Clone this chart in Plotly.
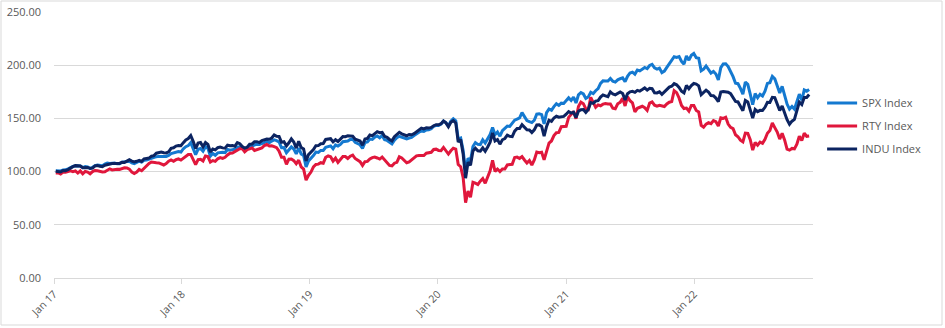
import pandas as pd
import plotly.graph_objects as go

# Weekly (Friday) index levels, rebased so the start of 2017 = 100
week_start = "2017-01-06"

spx = [
    # 2017
    100.8, 100.8, 100.6, 101.6, 101.7, 102.6, 104.1, 104.8, 105.5, 105.1,
    105.3, 103.8, 104.7, 104.3, 103.1, 104.0, 105.6, 106.2, 105.9, 105.5,
    107.0, 108.0, 107.7, 107.8, 108.0, 107.3, 107.4, 108.9, 109.5, 109.5,
    109.7, 108.1, 107.4, 108.2, 109.7, 109.0, 110.7, 110.8, 111.6, 112.9,
    113.1, 114.0, 114.3, 114.6, 114.3, 114.2, 115.2, 117.0, 117.4, 118.5,
    118.8, 118.4,
    # 2018
    121.5, 123.4, 124.4, 127.2, 122.3, 116.0, 121.0, 121.7, 119.2, 123.4,
    121.9, 114.6, 117.0, 115.3, 117.6, 118.2, 118.2, 117.9, 120.8, 120.1,
    120.5, 121.1, 123.1, 123.1, 122.0, 120.4, 122.2, 124.0, 124.1, 124.8,
    125.8, 125.5, 126.2, 127.3, 128.5, 127.2, 128.7, 129.8, 129.1, 127.8,
    122.5, 122.6, 117.8, 120.6, 123.2, 121.2, 116.6, 122.2, 116.6, 115.1,
    104.5, 110.1,
    # 2019
    112.1, 115.0, 118.3, 118.0, 119.9, 119.9, 122.9, 123.7, 124.2, 121.5,
    125.0, 124.0, 125.5, 128.1, 128.7, 128.7, 130.2, 130.5, 127.6, 126.7,
    125.2, 121.9, 127.2, 127.9, 130.6, 130.3, 132.4, 133.5, 131.8, 134.0,
    129.9, 129.3, 127.9, 126.1, 129.6, 131.9, 133.2, 132.5, 131.2, 130.7,
    131.5, 132.2, 133.9, 135.8, 137.0, 138.2, 137.7, 139.1, 139.3, 140.3,
    142.6, 143.5,
    # 2020
    143.3, 144.6, 147.5, 145.9, 142.9, 147.4, 149.7, 147.8, 130.8, 131.6,
    120.1, 100.0, 112.5, 110.2, 123.6, 127.3, 125.6, 125.4, 129.8, 126.8,
    130.9, 134.8, 141.5, 134.7, 137.2, 133.3, 138.6, 141.1, 142.8, 142.4,
    144.9, 148.4, 149.4, 150.4, 155.4, 151.8, 148.0, 147.0, 146.1, 148.3,
    154.0, 154.3, 153.5, 144.8, 155.4, 158.8, 157.6, 161.1, 163.8, 162.2,
    164.3, 164.0, 166.3,
    # 2021
    169.4, 166.9, 170.1, 164.5, 172.1, 174.3, 173.0, 168.8, 170.2, 174.6,
    173.3, 176.0, 178.0, 182.9, 185.3, 185.1, 185.2, 187.5, 184.9, 184.1,
    186.2, 187.3, 188.1, 184.5, 189.6, 192.7, 193.5, 191.6, 195.4, 194.6,
    196.5, 197.9, 196.7, 199.7, 200.8, 197.5, 196.3, 197.3, 193.0, 194.5,
    198.0, 201.3, 203.9, 208.0, 207.4, 208.1, 203.5, 201.0, 208.7, 204.7,
    209.3, 211.1,
    # 2022
    207.1, 206.5, 194.8, 196.3, 199.3, 195.7, 192.6, 194.2, 191.7, 186.2,
    197.7, 201.2, 201.3, 198.8, 194.6, 189.2, 183.0, 182.6, 178.2, 172.8,
    184.1, 182.0, 172.8, 162.8, 173.3, 169.4, 172.7, 171.1, 175.5, 182.9,
    183.6, 189.5, 187.2, 179.7, 173.8, 180.1, 171.5, 163.5, 158.8, 161.2,
    158.7, 166.2, 172.8, 167.0, 176.8, 175.6, 177.2,
]

rty = [
    # 2017
    98.8, 98.8, 97.8, 99.5, 99.4, 100.3, 100.7, 99.9, 100.7, 98.6,
    100.6, 97.9, 100.1, 99.6, 98.0, 100.0, 101.1, 100.8, 100.2, 99.7,
    99.9, 101.5, 102.6, 101.6, 102.1, 102.2, 102.1, 103.0, 103.6, 103.4,
    102.3, 99.5, 98.1, 99.5, 102.0, 100.8, 103.2, 104.8, 107.6, 109.0,
    108.4, 108.3, 108.2, 107.4, 106.2, 107.5, 109.7, 110.9, 109.7, 111.2,
    111.9, 110.8,
    # 2018
    112.6, 114.9, 116.0, 116.1, 111.7, 106.6, 111.3, 111.5, 110.0, 114.7,
    114.1, 109.0, 110.4, 109.6, 112.0, 113.1, 112.4, 113.4, 115.6, 117.3,
    117.5, 118.9, 120.7, 121.5, 121.7, 118.6, 120.7, 121.8, 122.2, 119.9,
    120.7, 121.3, 122.2, 124.5, 125.6, 124.0, 124.3, 123.5, 122.5, 119.2,
    113.4, 113.4, 106.9, 111.7, 111.8, 110.3, 107.4, 110.7, 104.5, 102.4,
    92.0, 96.5,
    # 2019
    99.6, 104.5, 106.7, 107.0, 108.4, 107.9, 113.4, 114.8, 113.9, 109.9,
    112.6, 108.7, 111.2, 114.2, 114.2, 112.3, 114.5, 115.5, 112.3, 110.9,
    109.3, 105.8, 109.3, 109.6, 111.9, 113.1, 113.7, 112.8, 111.8, 113.7,
    110.8, 108.7, 105.8, 105.3, 107.9, 108.7, 113.9, 112.8, 110.0, 108.3,
    109.1, 110.8, 112.5, 114.8, 115.2, 115.5, 115.1, 117.3, 118.0, 118.1,
    120.8, 121.1,
    # 2020
    119.9, 119.7, 122.7, 120.0, 116.5, 119.6, 121.9, 121.2, 106.6, 104.6,
    94.6, 70.8, 81.7, 76.0, 90.0, 89.1, 87.9, 91.0, 93.4, 89.0,
    94.7, 100.7, 110.5, 100.2, 102.4, 100.1, 102.5, 102.4, 106.3, 106.6,
    106.9, 113.2, 113.6, 112.3, 114.1, 110.9, 108.1, 110.4, 106.2, 111.0,
    118.3, 117.7, 118.2, 111.0, 118.3, 126.8, 128.8, 133.9, 136.6, 136.8,
    142.2, 142.2, 142.6,
    # 2021
    151.0, 153.3, 156.5, 149.7, 161.2, 165.3, 163.8, 158.9, 158.3, 169.8,
    165.0, 160.4, 162.7, 161.9, 163.4, 164.0, 163.6, 163.5, 159.6, 159.1,
    163.8, 165.1, 168.9, 161.7, 170.4, 166.6, 164.6, 156.2, 159.5, 160.7,
    161.4, 160.1, 157.5, 164.4, 165.5, 162.4, 161.5, 162.3, 161.8, 161.2,
    163.6, 165.2, 165.8, 176.0, 174.2, 169.2, 162.1, 159.3, 159.7, 156.9,
    162.2, 162.1,
    # 2022
    157.4, 156.1, 143.5, 141.8, 144.6, 146.0, 145.1, 147.9, 146.9, 142.9,
    150.6, 150.0, 151.1, 144.7, 141.6, 140.4, 134.6, 132.8, 129.5, 128.0,
    136.2, 136.0, 130.0, 120.2, 127.4, 124.8, 127.7, 126.6, 130.4, 136.1,
    138.7, 145.6, 141.3, 137.2, 130.6, 135.9, 129.8, 121.2, 120.2, 121.8,
    121.4, 125.8, 133.3, 129.2, 136.0, 133.2, 133.5,
]

indu = [
    # 2017
    100.4, 100.0, 99.7, 101.1, 100.9, 101.9, 103.7, 104.7, 105.6, 105.1,
    105.2, 103.6, 103.9, 103.9, 102.9, 103.3, 105.3, 105.7, 105.1, 104.6,
    106.0, 106.7, 107.0, 107.6, 107.6, 107.4, 107.7, 108.8, 108.5, 109.8,
    111.1, 109.9, 109.0, 109.7, 110.6, 109.6, 112.0, 112.4, 112.7, 114.5,
    115.0, 117.3, 117.9, 118.4, 117.8, 117.5, 118.5, 121.9, 122.4, 124.0,
    124.5, 124.3,
    # 2018
    127.2, 129.8, 131.1, 133.9, 128.4, 121.7, 126.8, 127.3, 123.4, 127.4,
    125.5, 118.4, 121.2, 120.4, 122.5, 123.0, 122.3, 122.0, 124.9, 124.3,
    124.5, 123.9, 127.3, 126.2, 123.6, 122.1, 123.0, 125.8, 126.0, 128.0,
    128.1, 127.3, 129.1, 129.7, 130.6, 130.4, 131.6, 134.5, 133.1, 133.0,
    127.5, 128.0, 124.2, 127.1, 130.7, 127.8, 122.1, 128.4, 122.7, 121.2,
    110.0, 116.0,
    # 2019
    117.9, 120.7, 124.3, 124.4, 126.1, 126.3, 130.2, 130.9, 130.9, 128.0,
    130.0, 128.3, 130.4, 132.9, 132.8, 133.6, 133.5, 133.3, 130.5, 129.6,
    128.7, 124.8, 130.7, 131.2, 134.4, 133.8, 135.4, 137.5, 136.6, 136.8,
    133.2, 132.2, 130.2, 128.9, 132.8, 134.8, 136.9, 135.5, 134.9, 133.7,
    134.9, 134.6, 135.6, 137.5, 139.2, 140.9, 140.2, 141.1, 140.9, 141.5,
    143.1, 144.1,
    # 2020
    144.0, 145.0, 147.6, 145.8, 142.1, 146.4, 147.9, 145.8, 127.8, 130.1,
    116.6, 93.8, 108.8, 105.9, 119.3, 121.9, 119.6, 119.3, 122.4, 119.1,
    123.1, 127.7, 136.4, 128.8, 130.1, 125.8, 129.9, 131.1, 134.2, 133.1,
    132.9, 138.0, 140.5, 140.5, 144.1, 141.5, 139.2, 139.1, 136.7, 139.2,
    143.8, 143.9, 142.5, 133.3, 142.5, 148.3, 147.2, 150.4, 152.0, 151.1,
    151.8, 151.9, 153.9,
    # 2021
    156.4, 155.0, 155.9, 150.8, 156.7, 158.2, 158.4, 155.6, 158.4, 164.9,
    164.1, 166.3, 166.7, 170.0, 172.0, 171.2, 170.4, 174.9, 172.9, 172.1,
    173.7, 174.8, 173.4, 167.4, 173.2, 175.0, 175.4, 174.5, 176.4, 175.7,
    177.1, 178.6, 176.6, 178.3, 177.9, 174.1, 173.9, 175.0, 172.6, 174.8,
    177.5, 179.4, 180.2, 182.7, 181.6, 179.1, 175.5, 173.9, 180.9, 177.9,
    180.8, 182.8,
    # 2022
    182.2, 180.6, 172.3, 174.7, 176.5, 174.7, 171.4, 171.3, 169.1, 165.7,
    174.8, 175.3, 175.1, 174.6, 173.3, 170.1, 165.9, 165.5, 161.9, 157.2,
    167.0, 165.5, 157.9, 150.3, 158.4, 156.4, 157.6, 157.4, 160.4, 165.2,
    165.0, 169.8, 169.5, 162.4, 157.5, 161.7, 155.0, 148.8, 144.5, 147.4,
    149.1, 156.3, 165.3, 163.0, 169.7, 169.7, 172.5,
]

assert len(spx) == len(rty) == len(indu), (len(spx), len(rty), len(indu))
dates = pd.date_range(week_start, periods=len(spx), freq="W-FRI")

series = [
    ("SPX Index", spx, "#1479D0"),
    ("RTY Index", rty, "#E0173C"),
    ("INDU Index", indu, "#0C2461"),
]

fig = go.Figure()
for name, values, color in series:
    fig.add_trace(go.Scatter(
        x=dates, y=values, name=name, mode="lines",
        line=dict(color=color, width=3),
        legendgroup=name,
    ))

W, H = 945, 328
ML, MR, MT, MB = 54, 132, 12, 50
pw, ph = W - ML - MR, H - MT - MB

fig.update_layout(
    width=W, height=H,
    margin=dict(l=ML, r=MR, t=MT, b=MB, autoexpand=False),
    paper_bgcolor="white", plot_bgcolor="white",
    font=dict(family="Open Sans, sans-serif", size=11, color="#595959"),
    showlegend=True,
    legend=dict(
        x=1.012, xanchor="left", y=0.571, yanchor="middle",
        font=dict(size=11, color="#595959"),
        tracegroupgap=4, bgcolor="rgba(0,0,0,0)",
    ),
    xaxis=dict(
        type="date",
        range=["2017-01-01", "2022-12-06"],
        tick0="2017-01-01", dtick="M12",
        tickformat="%b %y", tickangle=-45,
        ticks="outside", ticklen=5, tickcolor="#D9D9D9",
        showline=True, linecolor="#D9D9D9", linewidth=1,
        showgrid=False, zeroline=False, automargin=False,
        tickfont=dict(size=10.5, color="#595959"),
    ),
    yaxis=dict(
        range=[0, 250], dtick=50, tickformat=".2f",
        showgrid=True, gridcolor="#D9D9D9", gridwidth=1,
        zeroline=False, showline=False, automargin=False,
        ticklabelstandoff=12,
        tickfont=dict(size=11, color="#595959"),
    ),
    shapes=[dict(
        type="rect", xref="paper", yref="paper",
        x0=(1 - ML) / pw, x1=(942 - ML) / pw,
        y0=-(325 - MT - ph) / ph, y1=(MT + ph - 1) / ph,
        line=dict(color="#D9D9D9", width=1), fillcolor="rgba(0,0,0,0)",
        layer="below",
    )],
)

fig.write_html("out.html")
